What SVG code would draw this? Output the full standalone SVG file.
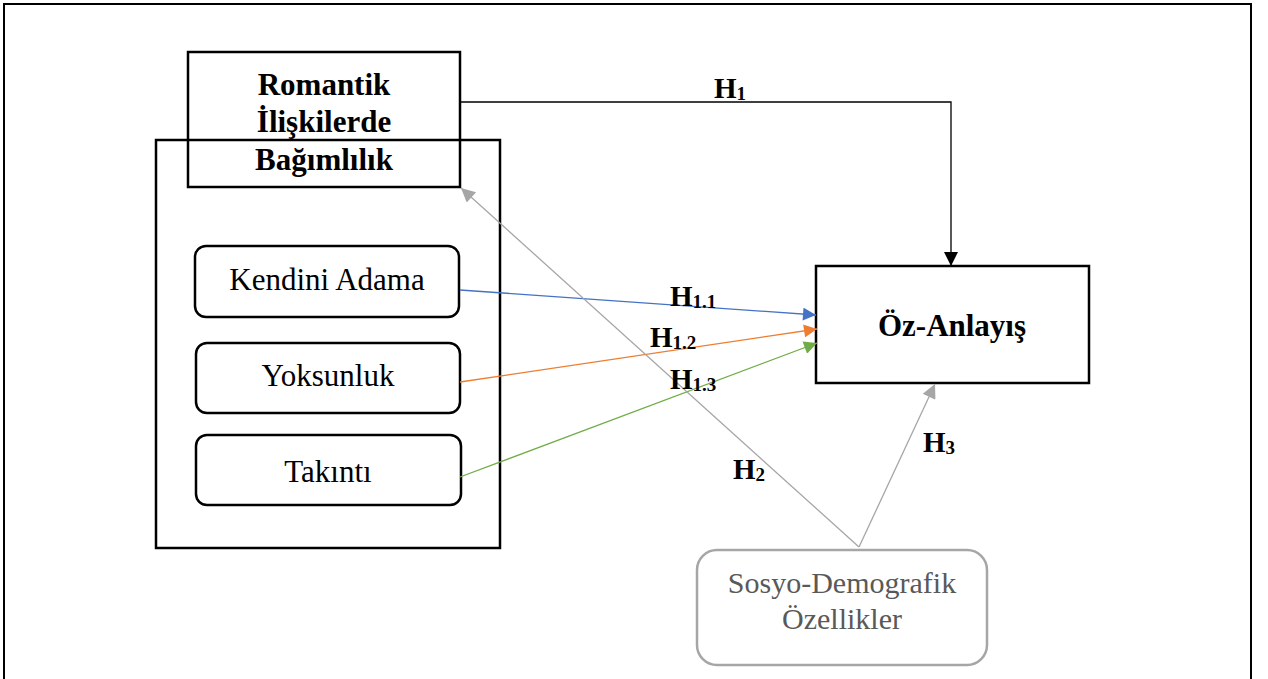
<svg xmlns="http://www.w3.org/2000/svg" width="1268" height="679" viewBox="0 0 1268 679">
<style>
.box{fill:#fff;stroke:#000;stroke-width:2.5}
.open{fill:none;stroke:#000;stroke-width:2.5}
.lbl{font-family:"Liberation Serif","Times New Roman",serif;font-size:31px;fill:#000;text-anchor:middle}
.b{font-weight:bold}
.h{font-family:"Liberation Serif","Times New Roman",serif;font-weight:bold;font-size:29px;fill:#000}
.sub{font-size:19px}
.ln{fill:none;stroke-width:1.3}
</style>
<defs>
<marker id="aK" viewBox="0 0 10 10" refX="10" refY="5" markerUnits="userSpaceOnUse" markerWidth="16" markerHeight="14" orient="auto"><path d="M0,0L10,5L0,10z" fill="#000"/></marker>
<marker id="aB" viewBox="0 0 10 10" refX="10" refY="5" markerUnits="userSpaceOnUse" markerWidth="16" markerHeight="13" orient="auto"><path d="M0,0L10,5L0,10z" fill="#4472c4"/></marker>
<marker id="aO" viewBox="0 0 10 10" refX="10" refY="5" markerUnits="userSpaceOnUse" markerWidth="16" markerHeight="13" orient="auto"><path d="M0,0L10,5L0,10z" fill="#ed7d31"/></marker>
<marker id="aG" viewBox="0 0 10 10" refX="10" refY="5" markerUnits="userSpaceOnUse" markerWidth="16" markerHeight="13" orient="auto"><path d="M0,0L10,5L0,10z" fill="#70ad47"/></marker>
<marker id="aY" viewBox="0 0 10 10" refX="10" refY="5" markerUnits="userSpaceOnUse" markerWidth="18" markerHeight="14" orient="auto"><path d="M0,0L10,5L0,10z" fill="#a6a6a6"/></marker>
</defs>
<rect width="1268" height="679" fill="#fff"/>
<rect x="4" y="4" width="1247" height="700" fill="none" stroke="#000" stroke-width="2"/>

<g id="bagimlilik-group">
<rect class="open" x="156" y="140" width="344" height="408"/>
</g>
<g id="romantik">
<rect class="open" x="188" y="52" width="272" height="135"/>
<text class="lbl b" x="324" y="95">Romantik</text>
<text class="lbl b" x="324" y="132">İlişkilerde</text>
<text class="lbl b" x="324" y="170">Bağımlılık</text>
</g>
<g id="kendini">
<rect class="box" x="195" y="246" width="264" height="71" rx="11"/>
<text class="lbl" x="327" y="290">Kendini Adama</text>
</g>
<g id="yoksunluk">
<rect class="box" x="196" y="343" width="264" height="70" rx="11"/>
<text class="lbl" x="328" y="386">Yoksunluk</text>
</g>
<g id="takinti">
<rect class="box" x="196" y="435" width="265" height="70" rx="11"/>
<text class="lbl" x="328" y="482">Takıntı</text>
</g>
<g id="oz-anlayis">
<rect class="box" x="816" y="266" width="273" height="117"/>
<text class="lbl b" x="952" y="336">Öz-Anlayış</text>
</g>
<g id="sosyo">
<rect x="697" y="550" width="290" height="115" rx="20" fill="#fff" stroke="#a6a6a6" stroke-width="2.5"/>
<text class="lbl" x="842" y="593" style="fill:#595959;font-size:30px">Sosyo-Demografik</text>
<text class="lbl" x="842" y="629" style="fill:#595959;font-size:30px">Özellikler</text>
</g>

<g id="connectors">
<polyline class="ln" points="460,102 951,102 951,266" stroke="#000" marker-end="url(#aK)"/>
<line class="ln" x1="460" y1="290" x2="816" y2="315" stroke="#4472c4" marker-end="url(#aB)"/>
<line class="ln" x1="460" y1="382" x2="817" y2="329" stroke="#ed7d31" marker-end="url(#aO)"/>
<line class="ln" x1="460" y1="477" x2="817" y2="343" stroke="#70ad47" marker-end="url(#aG)"/>
<line class="ln" x1="859" y1="547" x2="461" y2="188" stroke="#a6a6a6" marker-end="url(#aY)"/>
<line class="ln" x1="859" y1="547" x2="935" y2="384" stroke="#a6a6a6" marker-end="url(#aY)"/>
</g>

<g id="labels">
<text class="h" x="714" y="98">H<tspan class="sub" dy="2">1</tspan></text>
<text class="h" x="670" y="306">H<tspan class="sub" dy="2">1.1</tspan></text>
<text class="h" x="650" y="347">H<tspan class="sub" dy="2">1.2</tspan></text>
<text class="h" x="670" y="389">H<tspan class="sub" dy="2">1.3</tspan></text>
<text class="h" x="733" y="479">H<tspan class="sub" dy="2">2</tspan></text>
<text class="h" x="923" y="452">H<tspan class="sub" dy="2">3</tspan></text>
</g>
</svg>
